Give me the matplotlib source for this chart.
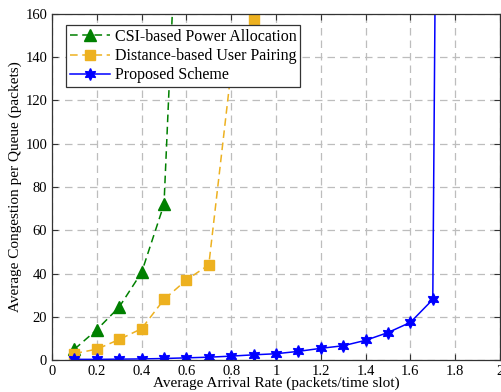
import matplotlib.pyplot as plt

plt.rcParams['font.family'] = ['Liberation Serif', 'DejaVu Serif']
plt.rcParams['mathtext.fontset'] = 'stix'

# arrival rate (packets/time slot)
x_csi = [0.1, 0.2, 0.3, 0.4, 0.5, 0.6]
y_csi = [5.0, 14.0, 24.5, 40.5, 72.0, 310.0]

x_dist = [0.1, 0.2, 0.3, 0.4, 0.5, 0.6, 0.7, 0.8, 0.9, 1.0]
y_dist = [3.0, 5.0, 9.5, 14.5, 28.0, 37.0, 44.0, 134.0, 157.5, 600.0]

x_prop = [0.1, 0.2, 0.3, 0.4, 0.5, 0.6, 0.7, 0.8, 0.9, 1.0, 1.1, 1.2, 1.3, 1.4, 1.5, 1.6, 1.7, 1.8]
y_prop = [0.3, 0.3, 0.4, 0.5, 0.7, 1.0, 1.3, 1.8, 2.4, 2.9, 4.0, 5.4, 6.6, 9.1, 12.7, 17.4, 28.0, 1400.0]

labels = ['CSI-based Power Allocation', 'Distance-based User Pairing', 'Proposed Scheme']

fig = plt.figure(figsize=(5.02, 3.92), dpi=100)
ax = fig.add_axes([0.1036, 0.0816, 0.8924, 0.8827])

ax.plot(x_csi, y_csi, '--', color='#008000', marker='^', markersize=8.5, lw=1.1,
        dashes=(5, 3), label=labels[0])
ax.plot(x_dist, y_dist, '--', color='#EDB120', marker='s', markersize=6.5, lw=1.1,
        dashes=(5, 3), label=labels[1])
ax.plot(x_prop, y_prop, '-', color='#0000FF', marker=(6, 1, 0), markersize=8.5, lw=1.1,
        label=labels[2])

ax.set_xlim(0, 2)
ax.set_ylim(0, 160)
ax.set_xticks([0, 0.2, 0.4, 0.6, 0.8, 1.0, 1.2, 1.4, 1.6, 1.8, 2.0])
ax.set_xticklabels(['0', '0.2', '0.4', '0.6', '0.8', '1', '1.2', '1.4', '1.6', '1.8', '2'])
ax.set_yticks(range(0, 161, 20))

ax.grid(True, linestyle=(0, (6, 4)), color='#bdbdbd', lw=0.9)
ax.tick_params(direction='in', top=True, right=True, labelsize=10.5, length=4, color='#333333')
for s in ax.spines.values():
    s.set_color('#333333')
    s.set_linewidth(0.9)

ax.set_xlabel('Average Arrival Rate (packets/time slot)', fontsize=11, labelpad=-1)
ax.set_ylabel('Average Congestion per Queue (packets)', fontsize=11, labelpad=2)

leg = ax.legend(loc='upper left', bbox_to_anchor=(0.031, 0.968), fontsize=11.5, fancybox=False,
                edgecolor='#333333', framealpha=1, handlelength=2.5, handletextpad=0.3,
                borderpad=0.25, labelspacing=0.2, borderaxespad=0)
leg.get_frame().set_linewidth(0.9)

fig.savefig('out.png', dpi=100)
